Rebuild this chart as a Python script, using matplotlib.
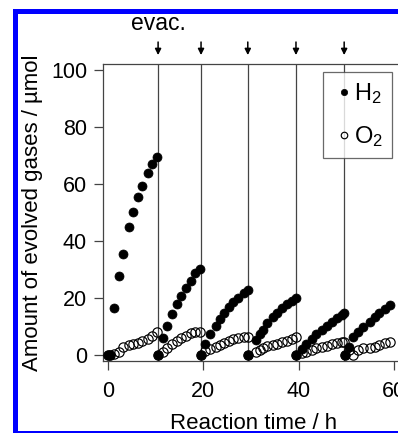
import matplotlib
matplotlib.use("Agg")
from matplotlib import pyplot as plt
from matplotlib.patches import Rectangle

plt.rcParams["font.family"] = ["Liberation Sans", "DejaVu Sans"]
plt.rcParams["font.size"] = 16
plt.rcParams["mathtext.default"] = "regular"

# tiempos de evacuación (h)
evac_times = [10.5, 19.5, 29.3, 39.4, 49.5]

# datos por ciclo: tiempo (h), H2 y O2 (µmol)
t1 = [0, 0.5, 1.3, 2.3, 3.2, 4.3, 5.3, 6.2, 7.1, 8.3, 9.2, 10.3]
h2_1 = [0, 0, 16.4, 27.8, 35.4, 45.0, 50.3, 55.5, 59.3, 64.0, 67.0, 69.4]
o2_1 = [0, 0, 0.3, 1.2, 2.9, 3.4, 3.8, 4.3, 4.8, 5.6, 6.6, 8.0]

t2 = [10.5, 11.5, 12.3, 13.4, 14.4, 15.3, 16.4, 17.3, 18.3, 19.3]
h2_2 = [0, 5.8, 10.3, 14.4, 17.8, 20.7, 23.6, 26.0, 28.7, 30.2]
o2_2 = [0, 1.2, 2.6, 3.9, 4.9, 5.8, 6.7, 7.6, 8.2, 8.2]

t3 = [19.5, 20.3, 21.4, 22.6, 23.5, 24.3, 25.4, 26.3, 27.2, 28.4, 29.4]
h2_3 = [0, 3.9, 7.3, 10.2, 12.5, 14.6, 16.7, 18.7, 20.1, 21.6, 22.8]
o2_3 = [0, 1.5, 2.1, 2.9, 3.5, 4.3, 5.0, 5.5, 5.8, 6.2, 6.3]

t4 = [29.4, 31.0, 31.8, 32.4, 33.4, 34.5, 35.5, 36.4, 37.5, 38.5, 39.4]
h2_4 = [0, 5.3, 7.2, 8.8, 11.1, 13.2, 14.8, 16.4, 17.8, 18.9, 20.1]
o2_4 = [0, 1.2, 1.8, 2.4, 3.0, 3.5, 4.0, 4.5, 5.0, 5.6, 6.2]

t5 = [39.4, 40.6, 41.6, 42.7, 43.7, 44.8, 45.8, 46.9, 47.9, 49.0, 49.5]
h2_5 = [0, 2.1, 3.9, 5.5, 7.3, 8.8, 10.3, 11.7, 12.9, 14.0, 14.6]
o2_5 = [0, 0.6, 1.2, 1.8, 2.3, 2.8, 3.3, 3.8, 4.3, 4.7, 4.6]

t6 = [49.6, 50.6, 51.4, 52.5, 53.5, 54.9, 55.9, 56.9, 58.0, 59.1]
h2_6 = [0, 2.9, 6.4, 8.2, 9.9, 11.7, 13.2, 14.6, 16.0, 17.5]
o2_6 = [0, 1.7, 0, 1.8, 2.3, 2.6, 2.9, 3.5, 4.1, 4.7]

times = [t1, t2, t3, t4, t5, t6]
h2_runs = [h2_1, h2_2, h2_3, h2_4, h2_5, h2_6]
o2_runs = [o2_1, o2_2, o2_3, o2_4, o2_5, o2_6]

x_ticks = [0, 20, 40, 60]
y_ticks = [0, 20, 40, 60, 80, 100]

W, H = 398, 433
fig = plt.figure(figsize=(W / 100, H / 100), dpi=100)
ax = fig.add_axes([103 / W, (H - 361) / H, 300.8 / W, 297 / H])

axis_col = "#444444"
for t in evac_times:
    ax.axvline(t, color=axis_col, lw=0.9, zorder=1)

for i, (t, o2) in enumerate(zip(times, o2_runs)):
    ax.plot(t, o2, "o", ls="none", ms=6.7, mfc="none", mec="black", mew=0.85,
            zorder=3, label="O$_2$" if i == 0 else None)
for i, (t, h2) in enumerate(zip(times, h2_runs)):
    ax.plot(t, h2, "o", ls="none", ms=6.5, mfc="black", mec="black", mew=0.5,
            zorder=4, label="H$_2$" if i == 0 else None)

ax.set_xlim(-1.05, 62)
ax.set_ylim(-2.1, 102.1)
ax.set_xticks(x_ticks)
ax.set_yticks(y_ticks)
ax.tick_params(axis="both", labelsize=15.5)
ax.tick_params(axis="x", direction="out", length=6.5, width=0.9, color=axis_col, pad=8)
ax.tick_params(axis="y", direction="out", length=6.5, width=0.9, color=axis_col, pad=5)
ax.spines["right"].set_visible(False)
for s in ["left", "bottom", "top"]:
    ax.spines[s].set_color(axis_col)
    ax.spines[s].set_linewidth(0.9)

ax.set_xlabel("Reaction time / h", labelpad=8)
ax.set_ylabel("Amount of evolved gases / µmol", labelpad=6)

# flechas de evacuación
for t in evac_times:
    ax.annotate("", xy=(t, 1.030), xytext=(t, 1.074),
                xycoords=ax.get_xaxis_transform(), annotation_clip=False,
                arrowprops=dict(arrowstyle="-|>", color="black", lw=1.1,
                                mutation_scale=9, shrinkA=0, shrinkB=0))
ax.text(evac_times[0], 1.113, "evac.", transform=ax.get_xaxis_transform(),
        ha="center", va="baseline", fontsize=16.5)

handles, labels = ax.get_legend_handles_labels()
leg = ax.legend(handles[::-1], labels[::-1], loc="upper left",
                bbox_to_anchor=(0.7316, 0.973), borderaxespad=0,
                frameon=True, fancybox=False, edgecolor=axis_col,
                markerscale=0.7, handlelength=1.0, handletextpad=-0.1,
                borderpad=0.4, labelspacing=0.75, fontsize=17)
leg.get_frame().set_linewidth(0.9)
leg.set_zorder(5)

# marco azul recortado
fig.add_artist(Rectangle((14.5 / W, 0.5 / H), (W + 20) / W, (H - 11) / H,
                         transform=fig.transFigure, fill=False,
                         edgecolor="#0000ff", lw=3.6))

fig.savefig("out.png", dpi=100)
